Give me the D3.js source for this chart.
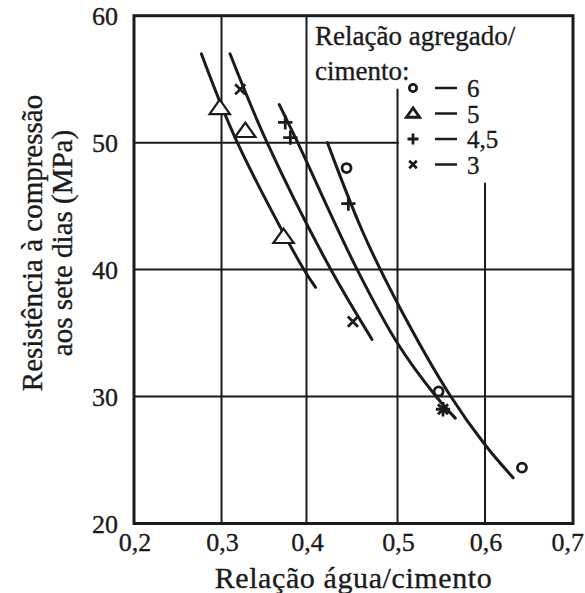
<!DOCTYPE html>
<html>
<head>
<meta charset="utf-8">
<script src="https://cdn.jsdelivr.net/npm/d3@7/dist/d3.min.js"></script>
<style>
  html, body { margin: 0; padding: 0; background: #fff; }
  svg { display: block; }
  svg text {
    font-family: "Liberation Serif", Tinos, "Times New Roman", Times, "Nimbus Roman",
      "Nimbus Roman No9 L", FreeSerif, "Noto Serif", "DejaVu Serif", Georgia, serif;
    stroke: #1b1b1b;
    stroke-width: 0.35px;
  }
</style>
</head>
<body>
<svg id="chart" width="585" height="593"></svg>
<script>
// Axis ticks
const xTicks = [0.2, 0.3, 0.4, 0.5, 0.6, 0.7];
const xTickLabels = ["0,2", "0,3", "0,4", "0,5", "0,6", "0,7"];
const yTicks = [20, 30, 40, 50, 60];

// Aggregate/cement ratios shown in the legend
const ratios = ["6", "5", "4,5", "3"];
const markerTypes = ["circle", "triangle", "plus", "cross"];

// Measured points: [water/cement ratio, 7-day compressive strength MPa]
const points6 = [[0.444, 48.0], [0.547, 30.4], [0.642, 24.4]];
const points5 = [[0.298, 52.7], [0.328, 50.9], [0.373, 42.55]];
const points45 = [[0.375, 51.6], [0.381, 50.4], [0.446, 45.2], [0.552, 29.0]];
const points3 = [[0.322, 54.2], [0.451, 35.9], [0.552, 29.0]];

// Fitted curves for each ratio
const curve5 = [[0.277, 57.0], [0.318, 50.1], [0.396, 40.1], [0.410, 38.6]];
const curve3 = [[0.310, 57.0], [0.353, 50.1], [0.426, 40.1], [0.472, 34.5]];
const curve45 = [[0.368, 53.0], [0.389, 50.1], [0.455, 40.1], [0.500, 34.2], [0.543, 30.1], [0.566, 28.3]];
const curve6 = [[0.423, 50.0], [0.461, 43.1], [0.500, 37.35], [0.560, 30.1], [0.600, 26.2], [0.632, 23.6]];

const ink = "#1b1b1b";

const svg = d3.select("#chart");

// The hand-ruled grid is slightly uneven, so the x scale is piecewise
const x = d3.scaleLinear().domain(xTicks).range([134, 221.5, 306.5, 397.5, 485, 573]);
const y = d3.scaleLinear().domain([20, 60]).range([523.5, 15.7]);

const [x0, x1] = [x(0.2), x(0.7)];
const [y0, y1] = [y(20), y(60)];

// Grid lines
const grid = svg.append("g").attr("stroke", ink).attr("stroke-width", 2);
grid.selectAll("line.vx").data(xTicks.slice(1, -1)).join("line")
  .attr("x1", d => x(d)).attr("x2", d => x(d))
  .attr("y1", y1).attr("y2", y0);
grid.selectAll("line.hy").data(yTicks.slice(1, -1)).join("line")
  .attr("x1", x0).attr("x2", x1)
  .attr("y1", d => y(d)).attr("y2", d => y(d));

// White panel behind the legend, blanking the grid underneath
svg.append("rect").attr("x", x(0.4) + 1.5).attr("y", y1).attr("width", x1 - x(0.4) - 1.5).attr("height", 73)
  .attr("fill", "#fff");
svg.append("rect").attr("x", x(0.5) + 1.5).attr("y", y1).attr("width", x1 - x(0.5) - 1.5).attr("height", 167)
  .attr("fill", "#fff");

// Frame
svg.append("rect").attr("x", x0).attr("y", y1).attr("width", x1 - x0).attr("height", y0 - y1)
  .attr("fill", "none").attr("stroke", ink).attr("stroke-width", 3);

// Curves
const line = d3.line().x(d => x(d[0])).y(d => y(d[1])).curve(d3.curveCatmullRom.alpha(0.5));
svg.append("g").selectAll("path").data([curve5, curve3, curve45, curve6]).join("path")
  .attr("d", line).attr("fill", "none").attr("stroke", ink).attr("stroke-width", 3)
  .attr("stroke-linecap", "round");

// Marker shapes
function drawMarker(g, type, s, sw) {
  if (type === "circle") {
    g.append("circle").attr("r", s * 0.45).attr("fill", "#fff").attr("stroke", ink).attr("stroke-width", sw);
  } else if (type === "triangle") {
    const h = s * 0.85;
    g.append("path").attr("d", `M0,${-h * 0.6}L${s * 0.6},${h * 0.4}L${-s * 0.6},${h * 0.4}Z`)
      .attr("fill", "#fff").attr("stroke", ink).attr("stroke-width", sw).attr("stroke-linejoin", "miter");
  } else if (type === "plus") {
    const a = s * 0.55;
    g.append("path").attr("d", `M${-a},0H${a}M0,${-a}V${a}`)
      .attr("stroke", ink).attr("stroke-width", sw);
  } else {
    const a = s * 0.42;
    g.append("path").attr("d", `M${-a},${-a}L${a},${a}M${a},${-a}L${-a},${a}`)
      .attr("stroke", ink).attr("stroke-width", sw);
  }
}

const seriesPoints = [points6, points5, points45, points3];
const markSize = { circle: 10, triangle: 17, plus: 13, cross: 12 };
seriesPoints.forEach((pts, i) => {
  const type = markerTypes[i];
  svg.append("g").selectAll("g").data(pts).join("g")
    .attr("transform", d => `translate(${x(d[0])},${y(d[1])})`)
    .each(function () { drawMarker(d3.select(this), type, markSize[type], type === "triangle" ? 2.2 : 2.8); });
});

// Axis tick labels
svg.append("g").selectAll("text").data(yTicks).join("text")
  .attr("x", 118).attr("y", d => y(d)).attr("dy", "0.35em")
  .attr("text-anchor", "end").attr("font-size", 26).attr("fill", ink)
  .text(d => d);
const lastX = xTicks.length - 1;
svg.append("g").selectAll("text").data(xTicks).join("text")
  .attr("x", (d, i) => i === lastX ? 584 : x(d) + 1).attr("y", 551)
  .attr("text-anchor", (d, i) => i === lastX ? "end" : "middle")
  .attr("font-size", 26).attr("fill", ink)
  .text((d, i) => xTickLabels[i]);

// Axis titles
svg.append("text").attr("x", (x0 + x1) / 2).attr("y", 588).attr("text-anchor", "middle")
  .attr("font-size", 30).attr("letter-spacing", 0.6).attr("fill", ink)
  .text("Relação água/cimento");
const yTitle = svg.append("text").attr("transform", "translate(0,243) rotate(-90)")
  .attr("text-anchor", "middle").attr("font-size", 29).attr("fill", ink);
yTitle.append("tspan").attr("x", 0).attr("y", 42).text("Resistência à compressão");
yTitle.append("tspan").attr("x", 0).attr("y", 72).text("aos sete dias (MPa)");

// Legend
const leg = svg.append("g").attr("fill", ink);
leg.append("text").attr("x", 315).attr("y", 45).attr("font-size", 27).text("Relação agregado/");
leg.append("text").attr("x", 315).attr("y", 80).attr("font-size", 27).text("cimento:");
const rowY = [88, 113.5, 139, 164.5];
const legSize = { circle: 8, triangle: 11, plus: 10, cross: 9 };
ratios.forEach((r, i) => {
  const g = leg.append("g").attr("transform", `translate(413,${rowY[i]})`);
  drawMarker(g, markerTypes[i], legSize[markerTypes[i]], 2.8);
  leg.append("line").attr("x1", 435).attr("x2", 457).attr("y1", rowY[i]).attr("y2", rowY[i])
    .attr("stroke", ink).attr("stroke-width", 2.5);
  leg.append("text").attr("x", 467).attr("y", rowY[i]).attr("dy", "0.36em")
    .attr("font-size", 25).text(r);
});
</script>
</body>
</html>
